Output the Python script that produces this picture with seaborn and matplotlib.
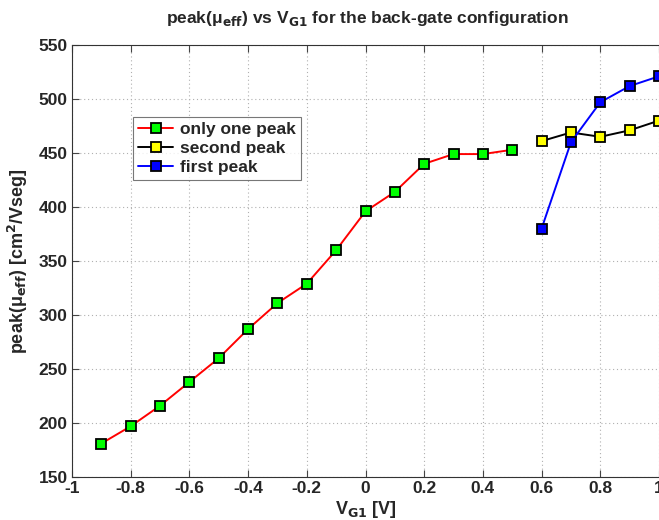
import matplotlib
matplotlib.use("Agg")
import matplotlib.pyplot as plt
import seaborn as sns
import pandas as pd

# Peak effective mobility vs back-gate voltage
vg_single = [-0.9, -0.8, -0.7, -0.6, -0.5, -0.4, -0.3, -0.2, -0.1, 0.0, 0.1, 0.2, 0.3, 0.4, 0.5]
mu_single = [181, 197, 216, 238, 260, 287, 311, 329, 360, 396, 414, 440, 449, 449, 453]

vg_split = [0.6, 0.7, 0.8, 0.9, 1.0]
mu_second = [461, 469, 465, 471, 480]
mu_first = [380, 460, 497, 512, 521]

x_ticks = [-1, -0.8, -0.6, -0.4, -0.2, 0, 0.2, 0.4, 0.6, 0.8, 1]
y_ticks = [150, 200, 250, 300, 350, 400, 450, 500, 550]

sns.set_theme(style="white")
plt.rcParams["font.family"] = ["Liberation Sans Narrow", "Liberation Sans", "DejaVu Sans"]
plt.rcParams["font.weight"] = "bold"
plt.rcParams["mathtext.fontset"] = "custom"
plt.rcParams["mathtext.rm"] = "Liberation Sans Narrow:bold"
plt.rcParams["mathtext.bf"] = "Liberation Sans Narrow:bold"
plt.rcParams["mathtext.default"] = "rm"

df_single = pd.DataFrame({"vg": vg_single, "mu": mu_single})
df_second = pd.DataFrame({"vg": vg_split, "mu": mu_second})
df_first = pd.DataFrame({"vg": vg_split, "mu": mu_first})

fig = plt.figure(figsize=(6.59, 5.2), dpi=100)
ax = fig.add_axes([72 / 659, 1 - 477 / 520, (659 - 72) / 659, (477 - 45) / 520])

common = dict(marker="s", markersize=7, markeredgecolor="black",
              markeredgewidth=1.3, linewidth=1.4, ax=ax, sort=False)
sns.lineplot(data=df_single, x="vg", y="mu", color="red", markerfacecolor="#00ff00",
             label="only one peak", **common)
sns.lineplot(data=df_second, x="vg", y="mu", color="black", markerfacecolor="yellow",
             label="second peak", **common)
sns.lineplot(data=df_first, x="vg", y="mu", color="blue", markerfacecolor="blue",
             label="first peak", **common)

ax.set_xlim(-1, 1)
ax.set_ylim(150, 550)
ax.set_xticks(x_ticks)
ax.set_xticklabels(["-1", "-0.8", "-0.6", "-0.4", "-0.2", "0", "0.2", "0.4", "0.6", "0.8", "1"])
ax.set_yticks(y_ticks)
ax.grid(True, color="#b0b0b0", linestyle=(0, (1, 2.5)), linewidth=0.8)
ax.tick_params(axis="both", direction="in", length=5, width=0.8, color="#444444",
               labelsize=12.5, pad=3, top=True, bottom=True, left=True, right=False)
for lbl in ax.get_xticklabels() + ax.get_yticklabels():
    lbl.set_fontweight("bold")
for side in ["left", "bottom", "top"]:
    ax.spines[side].set_color("#333333")
    ax.spines[side].set_linewidth(0.8)
ax.spines["right"].set_visible(False)

ax.set_xlabel(r"V$_{\mathbf{G1}}$ [V]", fontsize=13, fontweight="bold", labelpad=2)
ax.set_ylabel(r"peak(μ$_{\mathbf{eff}}$) [cm$^{\mathbf{2}}$/Vseg]", fontsize=13,
              fontweight="bold", labelpad=6)
fig.text(367 / 659, 1 - 18 / 520,
         r"peak(μ$_{\mathbf{eff}}$) vs V$_{\mathbf{G1}}$ for the back-gate configuration",
         ha="center", va="center", fontsize=12.5, fontweight="bold")

leg = ax.legend(loc="upper left", bbox_to_anchor=(133 / 659, 1 - 117 / 520),
                bbox_transform=fig.transFigure, fontsize=12.5, frameon=True,
                fancybox=False, edgecolor="#555555", handlelength=2.0,
                handletextpad=0.4, borderpad=0.3, labelspacing=0.2,
                borderaxespad=0)
leg.get_frame().set_linewidth(0.8)
for t in leg.get_texts():
    t.set_fontweight("bold")

fig.savefig("out.png", dpi=100)
